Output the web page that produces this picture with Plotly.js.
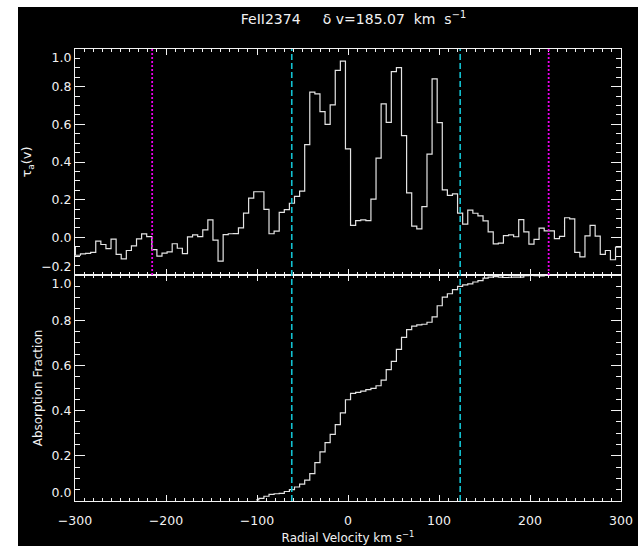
<!DOCTYPE html>
<html>
<head>
<meta charset="utf-8">
<script src="https://cdn.plot.ly/plotly-3.0.1.min.js"></script>
<style>
  html, body { margin: 0; padding: 0; background: #ffffff; }
  #frame { position: absolute; left: 18px; top: 7px; width: 620px; height: 539px; background: #000; }
</style>
</head>
<body>
<div id="frame"></div>
<script>
// Apparent optical depth profile of Fe II 2374, binned in velocity (km/s)
const velocity = [
  -302.4, -296.8, -291.2, -285.6, -280.0, -274.4, -268.8, -263.2, -257.6, -252.0,
  -246.4, -240.8, -235.2, -229.6, -224.0, -218.4, -212.8, -207.2, -201.6, -196.0,
  -190.4, -184.8, -179.2, -173.6, -168.0, -162.4, -156.8, -151.2, -145.6, -140.0,
  -134.4, -128.8, -123.2, -117.6, -112.0, -106.4, -100.8, -95.2, -89.6, -84.0,
  -78.4, -72.8, -67.2, -61.6, -56.0, -50.4, -44.8, -39.2, -33.6, -28.0,
  -22.4, -16.8, -11.2, -5.6, 0.0, 5.6, 11.2, 16.8, 22.4, 28.0,
  33.6, 39.2, 44.8, 50.4, 56.0, 61.6, 67.2, 72.8, 78.4, 84.0,
  89.6, 95.2, 100.8, 106.4, 112.0, 117.6, 123.2, 128.8, 134.4, 140.0,
  145.6, 151.2, 156.8, 162.4, 168.0, 173.6, 179.2, 184.8, 190.4, 196.0,
  201.6, 207.2, 212.8, 218.4, 224.0, 229.6, 235.2, 240.8, 246.4, 252.0,
  257.6, 263.2, 268.8, 274.4, 280.0, 285.6, 291.2, 296.8, 302.4
];

const tauA = [
  -0.050, -0.095, -0.088, -0.085, -0.080, -0.020, -0.038, -0.060, -0.010, -0.090,
  -0.114, -0.070, -0.045, -0.008, 0.018, 0.004, -0.065, -0.100, -0.084, -0.077,
  -0.034, -0.058, -0.086, 0.002, 0.013, 0.004, 0.040, 0.093, -0.015, -0.126,
  0.014, 0.019, 0.020, 0.050, 0.129, 0.208, 0.242, 0.242, 0.148, 0.019,
  0.033, 0.132, 0.147, 0.181, 0.217, 0.245, 0.492, 0.771, 0.762, 0.668,
  0.600, 0.703, 0.887, 0.936, 0.470, 0.063, 0.089, 0.093, 0.089, 0.203,
  0.421, 0.709, 0.610, 0.880, 0.901, 0.540, 0.236, 0.060, 0.045, 0.163,
  0.442, 0.841, 0.609, 0.252, 0.223, 0.231, 0.129, 0.070, 0.144, 0.128,
  0.114, 0.087, 0.029, -0.035, -0.031, 0.009, 0.013, 0.003, 0.094, 0.029,
  -0.036, -0.011, 0.049, 0.034, 0.034, -0.007, 0.005, 0.104, 0.098, -0.080,
  -0.104, 0.008, 0.063, 0.006, -0.091, -0.070, -0.119, -0.052, -0.050
];

// Cumulative absorption fraction across the integration window
const cumVelocity = [
  -100.8, -95.2, -89.6, -84.0, -78.4, -72.8, -67.2, -61.6, -56.0, -50.4,
  -44.8, -39.2, -33.6, -28.0, -22.4, -16.8, -11.2, -5.6, 0.0, 5.6,
  11.2, 16.8, 22.4, 28.0, 33.6, 39.2, 44.8, 50.4, 56.0, 61.6,
  67.2, 72.8, 78.4, 84.0, 89.6, 95.2, 100.8, 106.4, 112.0, 117.6,
  123.2, 128.8, 134.4, 140.0, 145.6, 151.2, 156.8, 162.4, 168.0, 173.6,
  179.2, 184.8, 190.4, 196.0, 201.6, 207.2, 212.8, 218.4
];

const absFraction = [
  0.005, 0.012, 0.021, 0.029, 0.032, 0.034, 0.042, 0.050, 0.062, 0.075,
  0.092, 0.121, 0.170, 0.217, 0.258, 0.295, 0.338, 0.390, 0.448, 0.476,
  0.481, 0.486, 0.493, 0.498, 0.510, 0.535, 0.581, 0.618, 0.671, 0.724,
  0.758, 0.774, 0.779, 0.782, 0.791, 0.815, 0.864, 0.902, 0.917, 0.935,
  0.950, 0.956, 0.961, 0.969, 0.975, 0.986, 0.991, 0.993, 0.991, 0.989,
  0.990, 0.991, 0.991, 0.997, 0.999, 0.997, 0.996, 1.000
];

// Velocity limits: central 90% span (cyan) and integration window (magenta)
const spanLimits = [-61.8, 123.27];
const windowLimits = [-215.2, 220.5];

// Tick labels; the end labels of each panel are nudged inward with a blank line
const xTickVals = [-300, -200, -100, 0, 100, 200, 300];
const xTickText = ['\u2212300', '\u2212200', '\u2212100', '0', '100', '200', '300'];
const tauTickVals = [-0.2, 0.0, 0.2, 0.4, 0.6, 0.8, 1.0];
const tauTickText = ['\u22120.2<br>\u00a0', '0.0', '0.2', '0.4', '0.6', '0.8', '\u00a0<br>1.0'];
const fracTickVals = [0.0, 0.2, 0.4, 0.6, 0.8, 1.0];
const fracTickText = ['0.0<br>\u00a0', '0.2', '0.4', '0.6', '0.8', '\u00a0<br>1.0'];

const FG = '#f2f2f2';
const CURVE = '#e4e4e4';
const CYAN = '#12c2d2';
const MAGENTA = '#ee00ee';
const FONT = 'DejaVu Sans';

const traces = [
  {
    x: velocity, y: tauA, xaxis: 'x2', yaxis: 'y',
    type: 'scatter', mode: 'lines',
    line: {shape: 'hvh', color: CURVE, width: 1.2},
    hoverinfo: 'skip'
  },
  {
    x: cumVelocity, y: absFraction, xaxis: 'x', yaxis: 'y2',
    type: 'scatter', mode: 'lines',
    line: {shape: 'hvh', color: CURVE, width: 1.2},
    hoverinfo: 'skip'
  }
];

function xAxisBase() {
  return {
    range: [-300, 300],
    tickmode: 'array', tickvals: xTickVals, ticktext: xTickText,
    ticks: 'inside', ticklen: 6, tickwidth: 1, tickcolor: FG,
    minor: {dtick: 10, tick0: 0, ticks: 'inside', ticklen: 3, tickwidth: 1, tickcolor: FG, showgrid: false},
    showline: true, linecolor: FG, linewidth: 1, mirror: 'allticks',
    showgrid: false, zeroline: false,
    ticklabelstandoff: 8,
    tickfont: {family: FONT, size: 12.5, color: FG}
  };
}

function yAxisBase(vals, text, range) {
  return {
    range: range,
    tickmode: 'array', tickvals: vals, ticktext: text,
    ticks: 'inside', ticklen: 10, tickwidth: 1, tickcolor: FG,
    minor: {dtick: 0.05, tick0: 0, ticks: 'inside', ticklen: 5, tickwidth: 1, tickcolor: FG, showgrid: false},
    showline: true, linecolor: FG, linewidth: 1, mirror: 'allticks',
    showgrid: false, zeroline: false,
    tickfont: {family: FONT, size: 12.5, color: FG}
  };
}

const shapes = [];
spanLimits.forEach(v => shapes.push({
  type: 'line', xref: 'x', yref: 'paper', x0: v, x1: v, y0: 0, y1: 1,
  line: {color: CYAN, width: 1.6, dash: '6px,3px'}, layer: 'above'
}));
windowLimits.forEach(v => shapes.push({
  type: 'line', xref: 'x2', yref: 'y domain', x0: v, x1: v, y0: 0, y1: 1,
  line: {color: MAGENTA, width: 1.8, dash: '2px,2px'}, layer: 'above'
}));

const layout = {
  width: 620, height: 539,
  paper_bgcolor: '#000000', plot_bgcolor: '#000000',
  margin: {l: 57, r: 17, t: 42, b: 45, pad: 0},
  showlegend: false,
  font: {family: FONT, color: FG, size: 12},
  title: {
    text: 'FeII2374\u00a0\u00a0\u00a0\u00a0 \u03b4 v=185.07\u00a0 km\u00a0 s<sup>\u22121</sup>',
    font: {family: FONT, size: 14, color: FG},
    x: 0.51, xref: 'paper', xanchor: 'center',
    y: 0.978, yref: 'container', yanchor: 'middle'
  },
  xaxis: Object.assign(xAxisBase(), {
    domain: [0, 1], anchor: 'y2',
    title: {text: 'Radial Velocity km s<sup>\u22121</sup>', font: {family: FONT, size: 12, color: FG}, standoff: 6}
  }),
  xaxis2: Object.assign(xAxisBase(), {
    domain: [0, 1], anchor: 'y', matches: 'x', showticklabels: false
  }),
  yaxis: Object.assign(yAxisBase(tauTickVals, tauTickText, [-0.2, 1.0]), {
    domain: [0.5, 1], anchor: 'x2',
    title: {text: '\u03c4<sub>a</sub>(v)', font: {family: FONT, size: 13, color: FG}, standoff: 6}
  }),
  yaxis2: Object.assign(yAxisBase(fracTickVals, fracTickText, [0, 1]), {
    domain: [0, 0.5], anchor: 'x',
    title: {text: 'Absorption Fraction', font: {family: FONT, size: 12, color: FG}, standoff: 6}
  }),
  shapes: shapes
};

Plotly.newPlot('frame', traces, layout, {staticPlot: true, displayModeBar: false});
</script>
</body>
</html>
